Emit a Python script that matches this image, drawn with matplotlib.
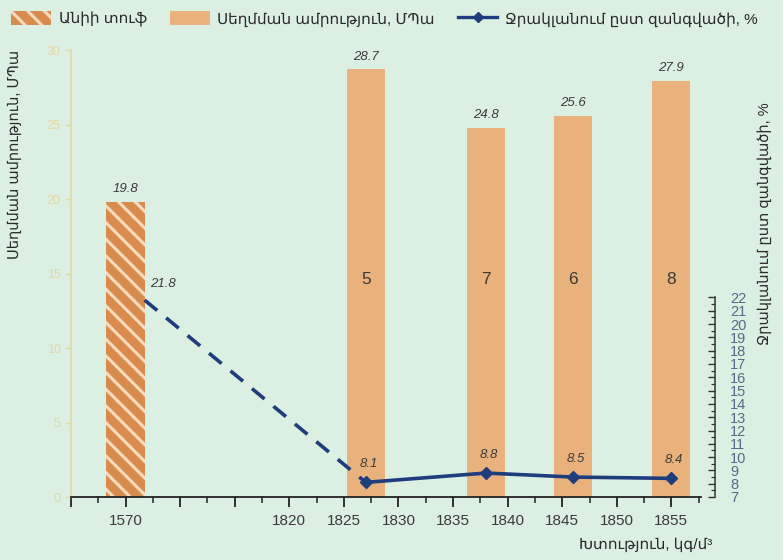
import matplotlib
matplotlib.use('Agg')
import matplotlib.pyplot as plt
import matplotlib.lines as mlines
import matplotlib.patches as mpatches
import numpy as np

# data
tuff_density = 1570
tuff_strength = 19.8
tuff_water = 21.8
densities = [1827, 1838, 1846, 1855]
strength = [28.7, 24.8, 25.6, 27.9]
water = [8.1, 8.8, 8.5, 8.4]
inner_labels = ['5', '7', '6', '8']
x_tick_labels = ['', '1570', '', '', '1820', '1825', '1830', '1835', '1840', '1845', '1850', '1855']

BG = '#dcefe3'
BAR = '#e9b27c'
HATCH_FACE = '#d98b4d'
LINE = '#1f3c7c'
FAINT = '#e2d9a4'

plt.rcParams['font.family'] = ['Liberation Sans', 'DejaVu Sans']
plt.rcParams['hatch.linewidth'] = 2.2


def pos(d):
    # broken density axis: 1570 sits at slot 1, 1820.. every 5 kg/m3 per slot from slot 4
    if d < 1800:
        return 1.0
    return 4 + (d - 1820) / 5.0


fig = plt.figure(figsize=(7.83, 5.6), dpi=100, facecolor=BG)
ax = fig.add_axes([0.0907, 0.1125, 0.8225, 0.798])
ax.set_facecolor(BG)

xs = [pos(d) for d in densities]
tuff_x = pos(tuff_density)
w = 0.7

ax.bar(tuff_x, tuff_strength, width=w, color=HATCH_FACE, edgecolor='#f7dcc0',
       hatch='\\\\', linewidth=0, zorder=2)
ax.bar(xs, strength, width=w, color=BAR, linewidth=0, zorder=2)

for x, v in zip([tuff_x] + xs, [tuff_strength] + strength):
    ax.annotate(f'{v}', (x, v), xytext=(0, 5), textcoords='offset points',
                ha='center', va='bottom', fontsize=9.5, style='italic', color='#3a3a3a')
for x, t in zip(xs, inner_labels):
    ax.text(x, 14.6, t, ha='center', va='center', fontsize=12.5, color='#3a3a3a', zorder=3)

ax.set_xlim(0, 11.8)
ax.set_ylim(0, 30)
ax.set_xticks(np.arange(0, 12))
ax.set_xticklabels(x_tick_labels, fontsize=11, color='#3a3a3a')
ax.set_xticks(np.arange(0.5, 12, 1), minor=True)
ax.tick_params(axis='x', which='major', direction='out', length=7, width=1.3, color='#222222', pad=5)
ax.tick_params(axis='x', which='minor', direction='out', length=4, width=1.1, color='#222222')
ax.set_yticks([0, 5, 10, 15, 20, 25, 30])
ax.tick_params(axis='y', which='major', direction='out', length=4, width=1, color=FAINT,
               labelcolor=FAINT, labelsize=9)

for s in ['top', 'right']:
    ax.spines[s].set_visible(False)
ax.spines['left'].set_color(FAINT)
ax.spines['left'].set_linewidth(1.2)
ax.spines['bottom'].set_color('#222222')
ax.spines['bottom'].set_linewidth(1.3)
ax.spines['bottom'].set_bounds(0, 11.55)

# water absorption on a secondary axis
ax2 = ax.twinx()
ax2.set_ylim(7, 7 + 0.798 * 560 / 13.3)
ax2.plot([tuff_x + w / 2, xs[0]], [tuff_water, water[0]], color=LINE, lw=2.6,
         ls=(0, (4.5, 3.2)), zorder=4)
ax2.plot(xs, water, color=LINE, lw=2.6, marker='D', ms=6.5, zorder=5)
ax2.annotate(f'{tuff_water}', (tuff_x + w / 2, tuff_water), xytext=(4, 7), textcoords='offset points',
             ha='left', va='bottom', fontsize=9.5, style='italic', color='#3a3a3a')
for x, v in zip(xs, water):
    ax2.annotate(f'{v}', (x, v), xytext=(2, 9), textcoords='offset points',
                 ha='center', va='bottom', fontsize=9.5, style='italic', color='#3a3a3a')

ax2.set_yticks(np.arange(7, 23))
ax2.set_yticks(np.arange(7.5, 22, 1), minor=True)
ax2.tick_params(axis='y', which='major', direction='in', length=5, width=1, color='#333333',
                labelcolor='#5a6888', labelsize=10.5, pad=11)
ax2.tick_params(axis='y', which='minor', direction='in', length=3, width=0.9, color='#333333')
for s in ['top', 'left', 'bottom']:
    ax2.spines[s].set_visible(False)
ax2.spines['right'].set_bounds(7, 22)
ax2.spines['right'].set_color('#333333')
ax2.spines['right'].set_linewidth(1.1)

# axis titles
fig.text(0.019, 0.725, 'Սեղմման ամրություն, ՄՊա', rotation=90, ha='center', va='center',
         fontsize=10.5, color='#2a2a2a')
fig.text(0.977, 0.6, 'Ջրակլանում ըստ զանգվածի, %', rotation=90, ha='center', va='center',
         fontsize=10.5, color='#2a2a2a')
fig.text(0.91, 0.028, 'Խտություն, կգ/մ³', ha='right', va='center', fontsize=11, color='#2a2a2a')

# legend across the top
handles = [
    mpatches.Patch(facecolor=HATCH_FACE, edgecolor='#f7dcc0', hatch='\\\\', linewidth=0,
                   label='Անիի տուֆ'),
    mpatches.Patch(facecolor=BAR, linewidth=0, label='Սեղմման ամրություն, ՄՊա'),
    mlines.Line2D([], [], color=LINE, lw=2.4, marker='D', ms=5, label='Ջրակլանում ըստ զանգվածի, %'),
]
fig.legend(handles=handles, loc='upper left', bbox_to_anchor=(0.0, 1.0), ncol=3, frameon=False,
           fontsize=11, handlelength=2.6, handleheight=1.0, handletextpad=0.5,
           columnspacing=1.5, borderaxespad=0.3, borderpad=0.45, labelcolor='#2a2a2a')

fig.savefig('out.png', dpi=100, facecolor=BG)
